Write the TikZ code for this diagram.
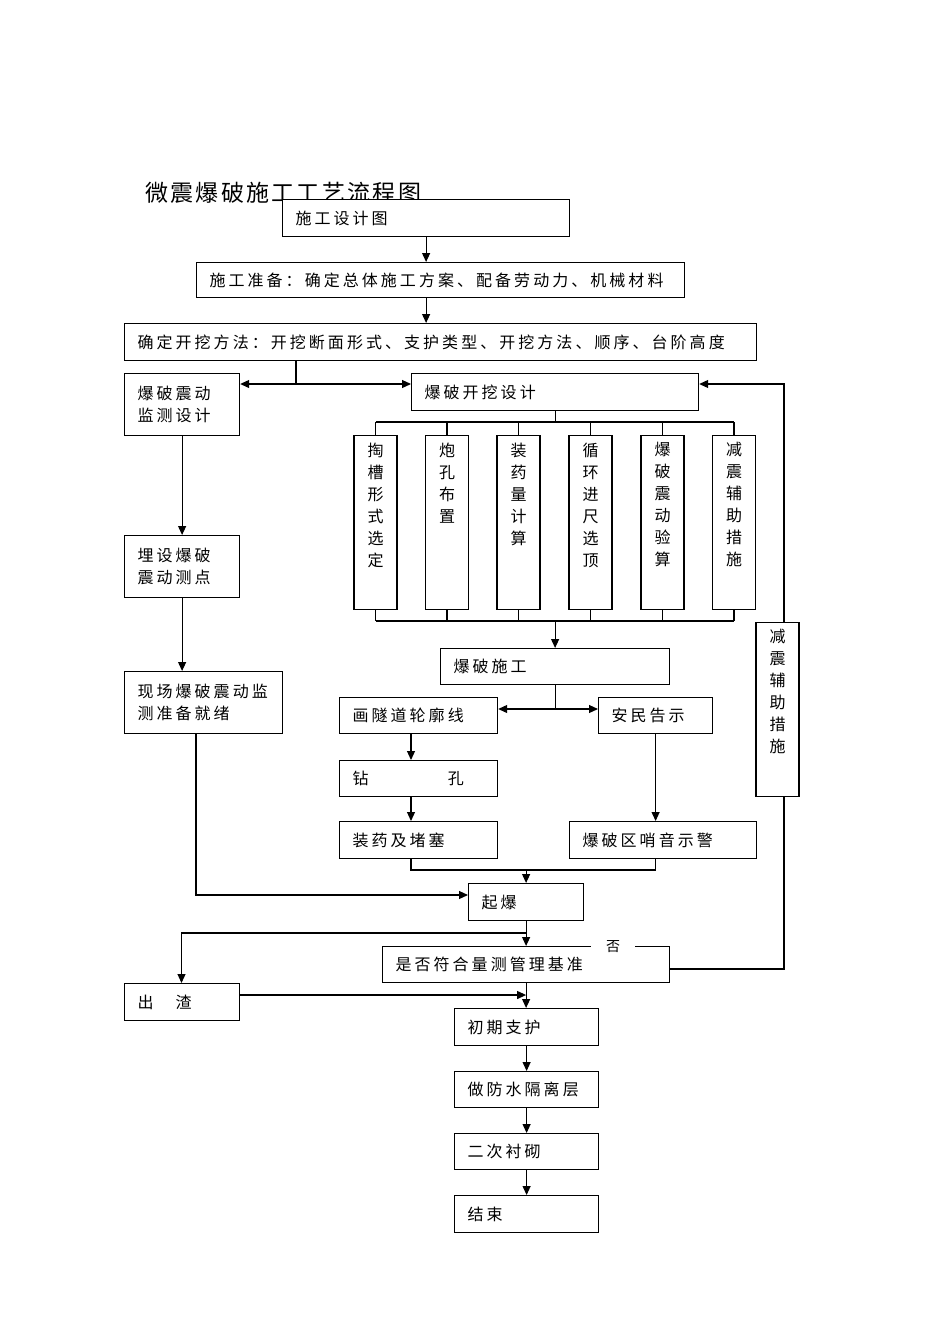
\documentclass[tikz,border=0pt]{standalone}
\usepackage{fontspec}
\usetikzlibrary{arrows.meta}
\newfontfamily\cjk[LetterSpace=19]{Noto Sans CJK SC}
\newfontfamily\cjkv{Noto Sans CJK SC}
\newfontfamily\cjktitle[LetterSpace=10]{Noto Sans CJK SC}
\tikzset{
  bx/.style={draw, line width=1.2pt, fill=white, anchor=north west, inner xsep=13pt, inner ysep=0pt,
    align=left, font=\cjk\fontsize{16}{22}\selectfont},
  vbx/.style={draw, line width=1.2pt, fill=white, anchor=north, inner sep=0pt,
    minimum width=43pt, font=\cjkv\fontsize{16}{22}\selectfont},
  arr/.style={line width=1.1pt, -{Triangle[length=9pt,width=8pt]}},
  ln/.style={line width=1.1pt}
}
\newcommand\vtext[1]{\parbox[c][174pt][t]{20pt}{\centering\vspace*{7pt}#1}}
\begin{document}
\begin{tikzpicture}[x=1pt,y=-1pt]
\useasboundingbox (0,0) rectangle (950,1344);
% title
\node[anchor=west, inner sep=0pt, font=\cjktitle\fontsize{23}{23}\selectfont] (title) at (145,193) {微震爆破施工工艺流程图};
% top boxes
\node[bx, text width=261pt, minimum height=37pt] (b1) at (282,199) {施工设计图};
\node[bx, text width=462pt, minimum height=35pt] (b2) at (196,262) {施工准备：确定总体施工方案、配备劳动力、机械材料};
\node[bx, text width=606pt, minimum height=37pt] (b3) at (124,323) {确定开挖方法：开挖断面形式、支护类型、开挖方法、顺序、台阶高度};
\node[bx, text width=89pt, minimum height=62pt] (b4) at (124,373) {爆破震动\\监测设计};
\node[bx, text width=261pt, minimum height=37pt] (b5) at (411,373) {爆破开挖设计};
% six vertical boxes
\node[vbx] (v1) at (375.5,435) {\vtext{掏\\槽\\形\\式\\选\\定}};
\node[vbx] (v2) at (447,435) {\vtext{炮\\孔\\布\\置}};
\node[vbx] (v3) at (518.5,435) {\vtext{装\\药\\量\\计\\算}};
\node[vbx] (v4) at (590.5,435) {\vtext{循\\环\\进\\尺\\选\\顶}};
\node[vbx] (v5) at (662.5,435) {\vtext{爆\\破\\震\\动\\验\\算}};
\node[vbx] (v6) at (734,435) {\vtext{减\\震\\辅\\助\\措\\施}};
% middle
\node[bx, text width=203pt, minimum height=36pt] (b6) at (440,648) {爆破施工};
\node[bx, text width=132pt, minimum height=36pt] (b7) at (339,697) {画隧道轮廓线};
\node[bx, text width=88pt, minimum height=36pt] (b8) at (598,697) {安民告示};
\node[bx, text width=132pt, minimum height=36pt] (b9) at (339,760) {钻　　　　孔};
\node[bx, text width=132pt, minimum height=37pt] (b10) at (339,821) {装药及堵塞};
\node[bx, text width=161pt, minimum height=37pt] (b11) at (569,821) {爆破区哨音示警};
\node[bx, text width=89pt, minimum height=37pt] (b12) at (468,883) {起爆};
\node[bx, text width=261pt, minimum height=36pt] (b13) at (382,946) {是否符合量测管理基准};
\node[bx, text width=89pt, minimum height=37pt] (b14) at (124,983) {出　渣};
\node[bx, text width=118pt, minimum height=37pt] (b15) at (454,1008) {初期支护};
\node[bx, text width=118pt, minimum height=36pt] (b16) at (454,1071) {做防水隔离层};
\node[bx, text width=118pt, minimum height=36pt] (b17) at (454,1133) {二次衬砌};
\node[bx, text width=118pt, minimum height=37pt] (b18) at (454,1195) {结束};
% left chain
\node[bx, text width=89pt, minimum height=62pt] (l1) at (124,535) {埋设爆破\\震动测点};
\node[bx, text width=132pt, minimum height=62pt] (l2) at (124,671) {现场爆破震动监\\测准备就绪};
% coordinates
\coordinate (j1) at (296,384);
\coordinate (j2) at (554.5,422);
\coordinate (j3) at (554.5,621);
\coordinate (j4) at (554.5,709);
\coordinate (x411) at (411,0);
\coordinate (j5) at (526,870);
\coordinate (j6) at (196,895);
\coordinate (j7) at (181.5,933);
\coordinate (j8) at (526,995);
\coordinate (fbA) at (784,969);
\coordinate (fbB) at (784,384);
% connectors
\draw[arr] (b1.south) -- (b1.south |- b2.north);
\draw[arr] (b1.south |- b2.south) -- (b1.south |- b3.north);
\draw[ln] (b3.south -| j1) -- (j1);
\draw[arr] (j1) -- (b4.east |- j1);
\draw[arr] (j1) -- (b5.west |- j1);
\draw[ln] (b5.south) -- (b5.south |- j2);
\draw[ln] (v1.north |- j2) -- (v6.north |- j2);
\foreach \v in {v1,v2,v3,v4,v5,v6} {
  \draw[ln] (\v.north |- j2) -- (\v.north);
  \draw[ln] (\v.south) -- (\v.south |- j3);
}
\draw[ln] (v1.south |- j3) -- (v6.south |- j3);
\draw[arr] (b6.north |- j3) -- (b6.north);
\draw[ln] (b6.south) -- (b6.south |- j4);
\draw[arr] (b6.south |- j4) -- (b7.east |- j4);
\draw[arr] (b6.south |- j4) -- (b8.west |- j4);
\draw[arr] (b7.south -| x411) -- (b9.north -| x411);
\draw[arr] (b9.south -| x411) -- (b10.north -| x411);
\draw[arr] (b8.south) -- (b8.south |- b11.north);
\draw[ln] (b10.south -| x411) -- (j5 -| x411) -- (j5 -| b8.south) -- (b11.south -| b8.south);
\draw[arr] (b12.north |- j5) -- (b12.north);
\draw[arr] (b4.south) -- (l1.north);
\draw[arr] (l1.south) -- (l1.south |- l2.north);
\draw[arr] (l2.south -| j6) -- (j6) -- (b12.west |- j6);
\draw[arr] (b12.south) -- (b12.south |- b13.north);
\draw[arr] (b12.south |- j7) -- (j7) -- (j7 |- b14.north);
\draw[arr] (b13.south) -- (b13.south |- b15.north);
\draw[arr] (b14.east |- j8) -- (b13.south |- j8);
\draw[arr] (b15.south) -- (b16.north);
\draw[arr] (b16.south) -- (b17.north);
\draw[arr] (b17.south) -- (b18.north);
\draw[arr] (b13.east |- fbA) -- (fbA) -- (fbB) -- (b5.east |- fbB);
% label on top edge
\node[fill=white, inner sep=0pt, minimum width=44pt, minimum height=12pt, font=\cjkv\fontsize{14}{14}\selectfont] (no) at (613,947) {否};
% right box
\node[vbx] (r) at (777.5,622) {\vtext{减\\震\\辅\\助\\措\\施}};
\end{tikzpicture}
\end{document}
